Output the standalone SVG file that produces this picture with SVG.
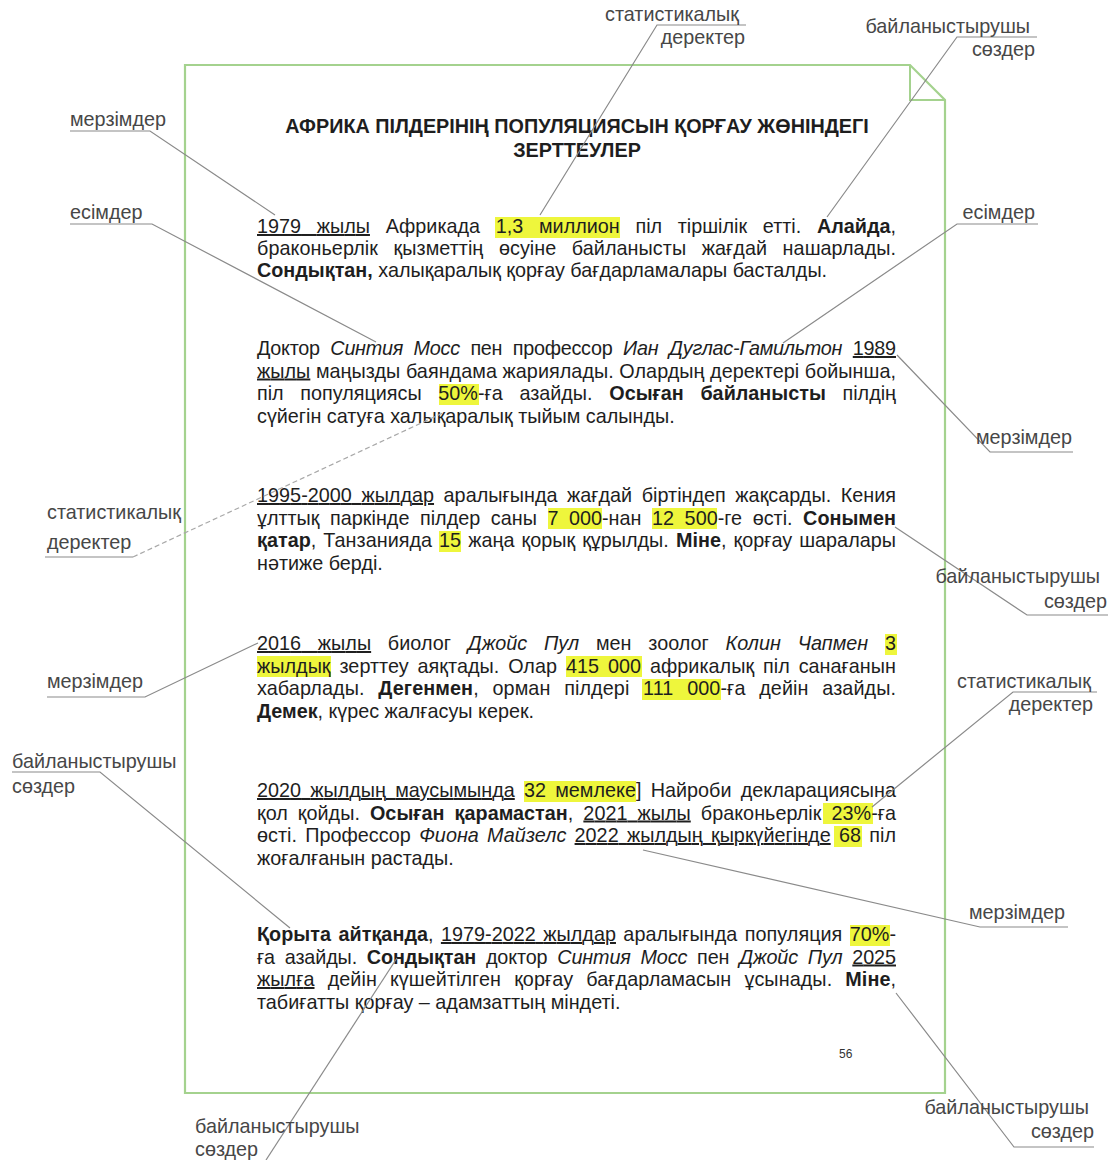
<svg xmlns="http://www.w3.org/2000/svg" width="1111" height="1160" viewBox="0 0 1111 1160">
<style>
text{font-family:"Liberation Sans",Arial,"Noto Sans",sans-serif;}
.t{font-size:19.8px;fill:#1e1e1e;}
.ttl{font-size:19.8px;font-weight:bold;fill:#1e1e1e;text-anchor:middle;}
.lb{font-size:19.8px;fill:#474747;}
.r{text-anchor:end;}
.b{font-weight:bold;}
.i{font-style:italic;}
.u{text-decoration:underline;}
.hl{fill:#eef63c;}
.ld{stroke:#8a8a8a;stroke-width:1.2;fill:none;}
.dash{stroke-dasharray:5 3;stroke:#a8a8a8;}
.pg{fill:#ffffff;stroke:#a4d28e;stroke-width:2.2;}
.fold{fill:none;stroke:#a4d28e;stroke-width:2;}
</style>
<rect width="1111" height="1160" fill="#ffffff"/>
<g id="page">
<path class="pg" d="M185,65 H910 L945,100 V1093 H185 Z"/>
<path class="fold" d="M910,65 V100 H945"/>
<text x="839" y="1058" style="font-size:12px;fill:#333">56</text>
</g>
<g id="highlights">
<rect class="hl" x="495" y="217" width="125" height="21"/>
<rect class="hl" x="439" y="384" width="40" height="21"/>
<rect class="hl" x="548" y="508" width="54" height="21"/>
<rect class="hl" x="652" y="508" width="65" height="21"/>
<rect class="hl" x="439" y="531" width="22" height="21"/>
<rect class="hl" x="885" y="634" width="12" height="21"/>
<rect class="hl" x="257" y="656" width="74" height="21"/>
<rect class="hl" x="566" y="656" width="76" height="21"/>
<rect class="hl" x="642" y="679" width="79" height="21"/>
<rect class="hl" x="524" y="781" width="112" height="21"/>
<rect class="hl" x="823" y="803" width="50" height="21"/>
<rect class="hl" x="834" y="826" width="28" height="21"/>
<rect class="hl" x="850" y="925" width="40" height="21"/>
</g>
<g id="title">
<text class="ttl" x="577" y="133">АФРИКА ПІЛДЕРІНІҢ ПОПУЛЯЦИЯСЫН ҚОРҒАУ ЖӨНІНДЕГІ</text>
<text class="ttl" x="577" y="157">ЗЕРТТЕУЛЕР</text>
</g>
<g id="para1">
<text class="t" x="257" y="233" textLength="639" lengthAdjust="spacing" style="word-spacing:10.2px"><tspan class="u">1979 жылы</tspan> Африкада 1,3 миллион піл тіршілік етті. <tspan class="b">Алайда</tspan>,</text>
<text class="t" x="257" y="255" textLength="639" lengthAdjust="spacing" style="word-spacing:10px">браконьерлік қызметтің өсуіне байланысты жағдай нашарлады.</text>
<text class="t" x="257" y="277"><tspan class="b">Сондықтан,</tspan> халықаралық қорғау бағдарламалары басталды.</text>
</g>
<g id="para2">
<text class="t" x="257" y="355" textLength="639" lengthAdjust="spacing" style="word-spacing:5.4px">Доктор <tspan class="i">Синтия Мосс</tspan> пен профессор <tspan class="i">Иан Дуглас-Гамильтон</tspan> <tspan class="u">1989</tspan></text>
<text class="t" x="257" y="377.5" textLength="639" lengthAdjust="spacing"><tspan class="u">жылы</tspan> маңызды баяндама жариялады. Олардың деректері бойынша,</text>
<text class="t" x="257" y="400" textLength="639" lengthAdjust="spacing" style="word-spacing:11.2px">піл популяциясы 50%-ға азайды. <tspan class="b">Осыған байланысты</tspan> пілдің</text>
<text class="t" x="257" y="422.5">сүйегін сатуға халықаралық тыйым салынды.</text>
</g>
<g id="para3">
<text class="t" x="257" y="502" textLength="639" lengthAdjust="spacing" style="word-spacing:4px"><tspan class="u">1995-2000 жылдар</tspan> аралығында жағдай біртіндеп жақсарды. Кения</text>
<text class="t" x="257" y="524.5" textLength="639" lengthAdjust="spacing" style="word-spacing:5px">ұлттық паркінде пілдер саны 7 000-нан 12 500-ге өсті. <tspan class="b">Сонымен</tspan></text>
<text class="t" x="257" y="547" textLength="639" lengthAdjust="spacing" style="word-spacing:1.5px"><tspan class="b">қатар</tspan>, Танзанияда 15 жаңа қорық құрылды. <tspan class="b">Міне</tspan>, қорғау шаралары</text>
<text class="t" x="257" y="569.5">нәтиже берді.</text>
</g>
<g id="para4">
<text class="t" x="257" y="650" textLength="639" lengthAdjust="spacing" style="word-spacing:11.2px"><tspan class="u">2016 жылы</tspan> биолог <tspan class="i">Джойс Пул</tspan> мен зоолог <tspan class="i">Колин Чапмен</tspan> 3</text>
<text class="t" x="257" y="672.5" textLength="639" lengthAdjust="spacing" style="word-spacing:3.4px">жылдық зерттеу аяқтады. Олар 415 000 африкалық піл санағанын</text>
<text class="t" x="257" y="695" textLength="639" lengthAdjust="spacing" style="word-spacing:8.1px">хабарлады. <tspan class="b">Дегенмен</tspan>, орман пілдері 111 000-ға дейін азайды.</text>
<text class="t" x="257" y="717.5"><tspan class="b">Демек</tspan>, күрес жалғасуы керек.</text>
</g>
<g id="para5">
<text class="t" x="257" y="797" textLength="639" lengthAdjust="spacing" style="word-spacing:3.7px"><tspan class="u">2020 жылдың маусымында</tspan> 32 мемлеке] Найроби декларациясына</text>
<text class="t" x="257" y="819.5" textLength="639" lengthAdjust="spacing" style="word-spacing:4.5px">қол қойды. <tspan class="b">Осыған қарамастан</tspan>, <tspan class="u">2021 жылы</tspan> браконьерлік 23%-ға</text>
<text class="t" x="257" y="842" textLength="639" lengthAdjust="spacing" style="word-spacing:2.8px">өсті. Профессор <tspan class="i">Фиона Майзелс</tspan> <tspan class="u">2022 жылдың қыркүйегінде</tspan> 68 піл</text>
<text class="t" x="257" y="864.5">жоғалғанын растады.</text>
</g>
<g id="para6">
<text class="t" x="257" y="941" textLength="639" lengthAdjust="spacing" style="word-spacing:1.8px"><tspan class="b">Қорыта айтқанда</tspan>, <tspan class="u">1979-2022 жылдар</tspan> аралығында популяция 70%-</text>
<text class="t" x="257" y="963.5" textLength="639" lengthAdjust="spacing" style="word-spacing:4.4px">ға азайды. <tspan class="b">Сондықтан</tspan> доктор <tspan class="i">Синтия Мосс</tspan> пен <tspan class="i">Джойс Пул</tspan> <tspan class="u">2025</tspan></text>
<text class="t" x="257" y="986" textLength="639" lengthAdjust="spacing" style="word-spacing:7.5px"><tspan class="u">жылға</tspan> дейін күшейтілген қорғау бағдарламасын ұсынады. <tspan class="b">Міне</tspan>,</text>
<text class="t" x="257" y="1008.5">табиғатты қорғау – адамзаттың міндеті.</text>
</g>
<g id="connectors">
<path class="ld" d="M70,131 H150 L275,215"/>
<path class="ld" d="M70,224 H152 L376,342"/>
<path class="ld" d="M746,25 H657 L540,215"/>
<path class="ld" d="M1037,37 H957 L827,217"/>
<path class="ld" d="M1038,224 H957 L783,343"/>
<path class="ld" d="M897,355 L990,452 H1073"/>
<path class="ld" d="M895,527 L1027,615 H1108"/>
<path class="ld" d="M1097,692 H1013 L872,807"/>
<path class="ld" d="M643,850 L980,927 H1068"/>
<path class="ld" d="M896,993 L1014,1147 H1094"/>
<path class="ld" d="M45,557 H133"/>
<path class="ld dash" d="M133,557 L445,412"/>
<path class="ld" d="M47,697 H145 L258,643"/>
<path class="ld" d="M12,772 H100 L290,928"/>
<path class="ld" d="M266,1160 L397,958"/>
</g>
<g id="label-merzimder-1"><text class="lb" x="70" y="126">мерзімдер</text></g>
<g id="label-esimder-1"><text class="lb" x="70" y="219">есімдер</text></g>
<g id="label-stat-top"><text class="lb r" x="739" y="21">статистикалық</text><text class="lb r" x="745" y="44">деректер</text></g>
<g id="label-bail-top"><text class="lb r" x="1030" y="33">байланыстырушы</text><text class="lb r" x="1035" y="56">сөздер</text></g>
<g id="label-esimder-2"><text class="lb r" x="1035" y="219">есімдер</text></g>
<g id="label-merzimder-2"><text class="lb r" x="1072" y="444">мерзімдер</text></g>
<g id="label-stat-left"><text class="lb" x="47" y="519">статистикалық</text><text class="lb" x="47" y="549">деректер</text></g>
<g id="label-bail-right"><text class="lb r" x="1100" y="583">байланыстырушы</text><text class="lb r" x="1107" y="608">сөздер</text></g>
<g id="label-merzimder-3"><text class="lb" x="47" y="688">мерзімдер</text></g>
<g id="label-stat-right"><text class="lb r" x="1091" y="688">статистикалық</text><text class="lb r" x="1093" y="711">деректер</text></g>
<g id="label-bail-left"><text class="lb" x="12" y="768">байланыстырушы</text><text class="lb" x="12" y="793">сөздер</text></g>
<g id="label-merzimder-4"><text class="lb r" x="1065" y="919">мерзімдер</text></g>
<g id="label-bail-bottom-right"><text class="lb r" x="1089" y="1114">байланыстырушы</text><text class="lb r" x="1094" y="1138">сөздер</text></g>
<g id="label-bail-bottom-left"><text class="lb" x="195" y="1133">байланыстырушы</text><text class="lb" x="195" y="1156">сөздер</text></g>
</svg>
